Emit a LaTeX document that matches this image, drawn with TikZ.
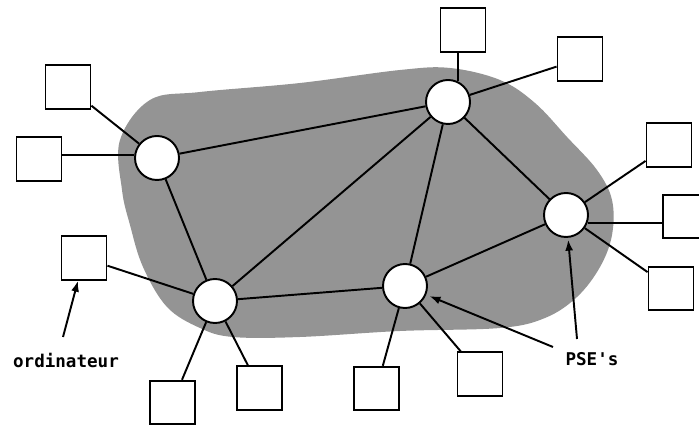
\documentclass[tikz,border=0pt]{standalone}
\usepackage{fontspec}
\newfontfamily\labelfont{DejaVu Sans Mono}
\usetikzlibrary{positioning,arrows.meta,calc}
\tikzset{
  link/.style={line width=1.1pt},
  ptrarrow/.style={-{Latex[length=2.2mm,width=1.6mm]}, line width=1.1pt},
  psenode/.style={draw, circle, line width=1.1pt, fill=white, minimum size=0.88cm, inner sep=0pt},
  hostbox/.style={draw, line width=1.1pt, fill=white, minimum width=0.9cm, minimum height=0.87cm, inner sep=0pt},
  labeltext/.style={font=\labelfont\bfseries\fontsize{10}{12}\selectfont, inner sep=1pt},
  cloud/.style={fill=black!42, draw=none}
}

\begin{document}
\begin{tikzpicture}[>=Latex]
  \useasboundingbox (0,0) rectangle (13.98,-8.5);
  \fill[cloud] plot[smooth cycle, tension=0.6] coordinates {
    (2.4,-2.8) (3.0,-2.0) (4.0,-1.84) (6.0,-1.66) (8.0,-1.4) (9.0,-1.36)
    (10.0,-1.6) (10.7,-2.06) (11.34,-2.74) (11.94,-3.4) (12.24,-4.0)
    (12.24,-4.7) (12.0,-5.34) (11.54,-5.94) (10.9,-6.36) (10.0,-6.56)
    (8.0,-6.62) (6.0,-6.74) (4.66,-6.74) (4.0,-6.56) (3.34,-6.14)
    (2.86,-5.34) (2.6,-4.5) (2.44,-3.8)};

  \node[psenode] (A) at (3.14,-3.16) {};
  \node[psenode] (B) at (8.96,-2.04) {};
  \node[psenode] (C) at (11.32,-4.30) {};
  \node[psenode] (D) at (8.10,-5.72) {};
  \node[psenode] (E) at (4.30,-6.02) {};

  \node[hostbox] (h1) at (1.36,-1.74) {};
  \node[hostbox] (h2) at (0.78,-3.18) {};
  \node[hostbox] (h3) at (9.26,-0.60) {};
  \node[hostbox] (h4) at (11.60,-1.18) {};
  \node[hostbox] (h5) at (13.38,-2.90) {};
  \node[hostbox] (h6) at (13.71,-4.33) {};
  \node[hostbox] (h7) at (13.42,-5.77) {};
  \node[hostbox] (h8) at (9.60,-7.48) {};
  \node[hostbox] (h9) at (7.53,-7.77) {};
  \node[hostbox] (h10) at (5.19,-7.76) {};
  \node[hostbox] (h11) at (3.45,-8.05) {};
  \node[hostbox] (h12) at (1.68,-5.16) {};

  \draw[link] (A) -- (B);
  \draw[link] (A) -- (E);
  \draw[link] (B) -- (E);
  \draw[link] (B) -- (D);
  \draw[link] (B) -- (C);
  \draw[link] (C) -- (D);
  \draw[link] (D) -- (E);

  \draw[link] (A) -- (h1);
  \draw[link] (A.172) -- (A.172 -| h2.east);
  \draw[link] (B.65) -- (B.65 |- h3.south);
  \draw[link] (B) -- (h4);
  \draw[link] (C) -- (h5);
  \draw[link] (C.-20) -- (C.-20 -| h6.west);
  \draw[link] (C) -- (h7);
  \draw[link] (D) -- (h8);
  \draw[link] (D) -- (h9);
  \draw[link] (E) -- (h10);
  \draw[link] (E) -- (h11);
  \draw[link] (E) -- (h12);

  \node[labeltext] (ordi) at (1.32,-7.20) {ordinateur};
  \node[labeltext] (pse) at (11.84,-7.18) {PSE's};
  \coordinate (o1) at (1.26,-6.74);
  \coordinate (p1) at (11.06,-6.94);
  \coordinate (p2) at (11.54,-6.78);
  \draw[ptrarrow] (o1) -- (h12);
  \draw[ptrarrow, shorten >=2pt] (p1) -- (D);
  \draw[ptrarrow, shorten >=1pt] (p2) -- (C);
\end{tikzpicture}
\end{document}
